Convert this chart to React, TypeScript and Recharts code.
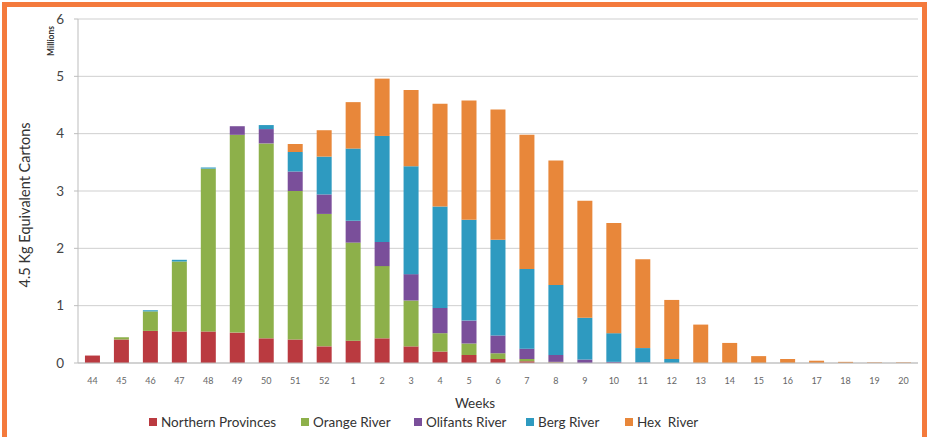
import React from 'react';
import { BarChart, Bar, XAxis, YAxis, CartesianGrid, Label } from 'recharts';

const weeks = [
  '44', '45', '46', '47', '48', '49', '50', '51', '52',
  '1', '2', '3', '4', '5', '6', '7', '8', '9', '10',
  '11', '12', '13', '14', '15', '16', '17', '18', '19', '20',
];
const northernProvinces = [0.13, 0.41, 0.56, 0.55, 0.55, 0.53, 0.43, 0.41, 0.29, 0.39, 0.43, 0.29, 0.2, 0.14, 0.07, 0.03, 0.01, 0, 0, 0, 0, 0, 0, 0, 0, 0, 0, 0, 0];
const orangeRiver = [0, 0.04, 0.34, 1.22, 2.84, 3.45, 3.4, 2.59, 2.31, 1.71, 1.26, 0.8, 0.32, 0.2, 0.1, 0.04, 0.01, 0, 0, 0, 0, 0, 0, 0, 0, 0, 0, 0, 0];
const olifantsRiver = [0, 0, 0, 0, 0, 0.15, 0.25, 0.34, 0.34, 0.38, 0.42, 0.46, 0.44, 0.4, 0.31, 0.18, 0.12, 0.06, 0.02, 0.01, 0, 0, 0, 0, 0, 0, 0, 0, 0];
const bergRiver = [0, 0, 0.02, 0.03, 0.02, 0, 0.07, 0.34, 0.66, 1.26, 1.85, 1.88, 1.77, 1.76, 1.67, 1.39, 1.22, 0.73, 0.5, 0.25, 0.07, 0, 0, 0, 0, 0, 0, 0, 0];
const hexRiver = [0, 0, 0, 0, 0, 0, 0, 0.14, 0.46, 0.81, 1.0, 1.33, 1.79, 2.08, 2.27, 2.34, 2.17, 2.04, 1.92, 1.55, 1.03, 0.67, 0.35, 0.12, 0.07, 0.04, 0.02, 0.01, 0.01];
const yTicks = [0, 1, 2, 3, 4, 5, 6];

const series = [
  { key: 'np', name: 'Northern Provinces', color: '#BA3A40', left: 149 },
  { key: 'or', name: 'Orange River', color: '#8DB04A', left: 301 },
  { key: 'ol', name: 'Olifants River', color: '#7A4F9A', left: 414 },
  { key: 'br', name: 'Berg River', color: '#2E9AC0', left: 526 },
  { key: 'hr', name: 'Hex  River', color: '#E8873A', left: 625 },
];

const data = weeks.map((w, i) => ({
  week: w,
  np: northernProvinces[i],
  or: orangeRiver[i],
  ol: olifantsRiver[i],
  br: bergRiver[i],
  hr: hexRiver[i],
}));

const font = 'Lato, "Open Sans", sans-serif';

export default function App() {
  return (
    <div
      style={{
        position: 'absolute',
        left: 0,
        top: 0,
        width: 927,
        height: 437,
        background: '#fff',
        overflow: 'hidden',
        fontFamily: font,
      }}
    >
      <div
        style={{
          position: 'absolute',
          left: 2,
          top: 2,
          width: 915,
          height: 450,
          border: '5px solid #F47A3C',
        }}
      />
      <BarChart
        width={927}
        height={437}
        data={data}
        barCategoryGap="24%"
        margin={{ top: 19, right: 9, left: 0, bottom: 0 }}
        style={{ position: 'absolute', left: 0, top: 0 }}
      >
        <CartesianGrid vertical={false} stroke="#CFCFCF" />
        <XAxis
          dataKey="week"
          height={74}
          tickLine={false}
          axisLine={{ stroke: '#BDBDBD' }}
          interval={0}
          tick={{ fontSize: 9, fill: '#666', fontFamily: font }}
          tickMargin={9}
        >
          <Label value="Weeks" position="insideBottom" offset={29} dx={-23} style={{ fontSize: 13.5, fill: '#333', fontFamily: font }} />
        </XAxis>
        <YAxis
          width={78}
          domain={[0, 6]}
          ticks={yTicks}
          tickSize={4}
          tickMargin={10}
          tickLine={{ stroke: '#BDBDBD' }}
          axisLine={{ stroke: '#BDBDBD' }}
          tick={{ fontSize: 13.5, fill: '#444', fontFamily: font }}
        >
          <Label value="4.5 Kg Equivalent Cartons" angle={-90} position="center" dx={-14} dy={14} style={{ fontSize: 14.5, fill: '#333', fontFamily: font }} />
          <Label value="Millions" angle={-90} position="insideTopLeft" offset={0} dx={48} dy={22} style={{ fontSize: 8.5, fontWeight: 700, fill: '#333', fontFamily: font, textAnchor: 'middle' }} />
        </YAxis>
        {series.map((s) => (
          <Bar key={s.key} dataKey={s.key} name={s.name} stackId="a" fill={s.color} isAnimationActive={false} />
        ))}
      </BarChart>
      {series.map((s) => (
        <div
          key={s.key}
          style={{
            position: 'absolute',
            left: s.left,
            top: 414,
            display: 'flex',
            alignItems: 'center',
            fontSize: 13.5,
            color: '#333',
            whiteSpace: 'pre',
          }}
        >
          <span style={{ display: 'inline-block', width: 8, height: 8, background: s.color, marginRight: 4 }} />
          {s.name}
        </div>
      ))}
    </div>
  );
}
